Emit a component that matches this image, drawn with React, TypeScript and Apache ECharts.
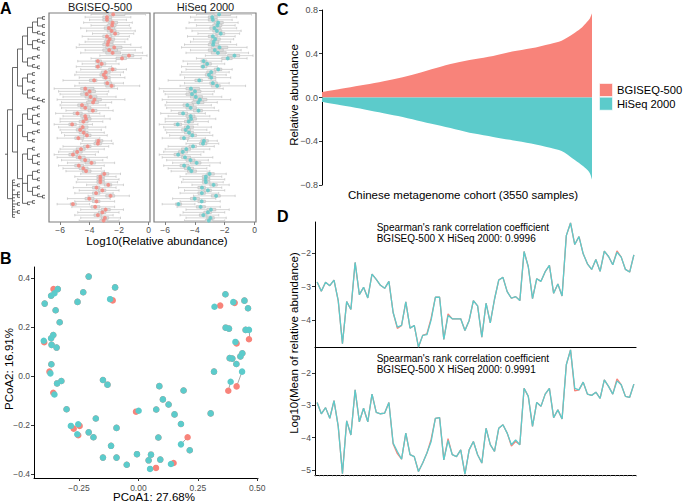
import React, { useEffect, useRef } from "react";
import * as echarts from "echarts";

const FONT = "'Liberation Sans', Arial, Helvetica, sans-serif";
const RED = "#F8837A";
const TEAL = "#5CCBCB";
const TICK_TXT = "#4D4D4D";

// ---------- Panel A : per-genus distributions (76 genera) ----------
const aRows = Array.from({ length: 76 }, (_, i) => "g" + (i + 1));
const aMedB = [-2.40, -2.82, -2.82, -2.44, -2.47, -2.69, -2.51, -2.27, -2.82, -2.64, -2.73, -2.78, -2.33, -2.67, -2.44, -1.33, -1.80, -3.44, -3.18, -3.44, -2.44, -2.91, -3.04, -2.91, -3.69, -2.80, -2.51, -4.29, -4.00, -4.20, -3.93, -3.67, -3.76, -4.51, -4.29, -3.78, -4.82, -4.29, -4.24, -4.42, -5.18, -4.47, -4.64, -4.40, -4.18, -4.76, -3.40, -3.44, -4.13, -4.58, -4.84, -5.13, -4.67, -4.30, -3.87, -4.73, -4.42, -4.24, -3.00, -3.27, -3.27, -3.27, -2.73, -3.53, -3.13, -3.56, -2.58, -4.02, -3.53, -5.13, -3.62, -2.91, -3.13, -3.44, -2.96, -3.05];
const aMedH = [-2.38, -2.84, -2.80, -2.44, -2.49, -2.69, -2.53, -2.27, -2.80, -2.64, -2.75, -2.78, -2.35, -2.67, -2.46, -1.35, -1.80, -3.42, -3.18, -3.46, -2.44, -2.91, -3.06, -2.91, -3.71, -2.80, -2.51, -4.27, -4.00, -4.20, -3.95, -3.67, -3.78, -4.51, -4.29, -3.76, -4.80, -4.29, -4.26, -4.42, -5.16, -4.47, -4.62, -4.40, -4.18, -4.74, -3.40, -3.46, -4.13, -4.58, -4.82, -5.13, -4.67, -4.30, -3.89, -4.73, -4.40, -4.24, -3.02, -3.27, -3.29, -3.27, -2.75, -3.53, -3.13, -3.54, -2.58, -4.02, -3.55, -5.11, -3.62, -2.93, -3.13, -3.44, -2.96, -3.07];
const aLow = [-3.9, -4.3, -4.0, -4.4, -3.9, -4.6, -4.2, -3.8, -4.5, -4.1, -4.3, -4.7, -4.9, -4.3, -4.6, -3.3, -3.9, -4.8, -4.5, -4.9, -4.6, -4.9, -5.0, -4.7, -5.8, -4.7, -5.0, -6.4, -6.1, -6.0, -5.8, -6.2, -5.9, -6.0, -5.9, -5.6, -6.3, -5.8, -6.0, -6.0, -6.4, -6.1, -6.0, -5.9, -5.7, -6.2, -4.5, -4.6, -5.8, -6.0, -6.1, -6.4, -6.2, -5.9, -5.5, -6.1, -5.8, -5.6, -4.6, -5.0, -4.8, -4.9, -4.2, -5.1, -4.7, -5.0, -4.1, -5.5, -5.0, -6.2, -5.2, -4.6, -4.8, -5.0, -4.6, -4.7];
const aQ1 = [-2.7, -3.1, -3.1, -2.7, -2.8, -3.0, -2.8, -2.6, -3.1, -2.9, -3.0, -3.1, -2.9, -3.1, -2.9, -1.8, -2.2, -3.6, -3.4, -3.6, -2.7, -3.2, -3.3, -3.1, -4.0, -3.0, -2.9, -4.6, -4.4, -4.6, -4.3, -4.1, -4.2, -4.8, -4.6, -4.1, -5.1, -4.6, -4.5, -4.7, -5.4, -4.7, -4.9, -4.7, -4.4, -5.0, -3.6, -3.7, -4.4, -4.9, -5.1, -5.4, -4.9, -4.6, -4.3, -5.0, -4.7, -4.5, -3.2, -3.5, -3.5, -3.5, -3.0, -3.8, -3.4, -3.8, -2.9, -4.3, -3.8, -5.3, -3.9, -3.2, -3.4, -3.7, -3.2, -3.3];
const aQ3 = [-1.6, -2.5, -2.5, -2.1, -2.2, -2.3, -2.2, -2.0, -2.5, -2.3, -2.4, -2.4, -1.8, -2.1, -1.9, -1.0, -1.5, -3.2, -2.9, -3.2, -2.2, -2.6, -2.8, -2.6, -3.5, -2.5, -2.3, -3.7, -3.6, -3.9, -3.5, -3.2, -3.4, -4.1, -3.9, -3.5, -4.5, -4.0, -3.9, -4.1, -4.9, -4.1, -4.3, -4.1, -3.9, -4.4, -3.1, -3.2, -3.9, -4.3, -4.5, -4.8, -4.3, -4.0, -3.6, -4.4, -4.1, -3.9, -2.7, -3.0, -3.0, -3.0, -2.5, -3.3, -2.9, -3.3, -2.3, -3.7, -3.3, -4.9, -3.3, -2.6, -2.9, -3.2, -2.7, -2.8];
const aHigh = [-0.2, -1.2, -1.5, -1.1, -1.3, -1.2, -0.9, -1.0, -1.3, -1.4, -1.6, -1.2, -0.5, -0.9, -0.4, -0.1, -0.5, -2.2, -2.0, -2.5, -1.5, -1.7, -1.9, -1.6, -2.6, -1.7, -0.6, -2.1, -2.7, -2.8, -2.2, -1.6, -2.5, -2.9, -2.7, -2.4, -3.3, -3.0, -2.6, -3.1, -3.8, -2.9, -3.2, -3.0, -2.8, -3.3, -2.5, -2.4, -2.7, -3.0, -3.4, -3.6, -2.8, -3.1, -2.3, -3.0, -3.2, -3.0, -1.9, -2.2, -2.0, -2.1, -1.7, -2.2, -2.0, -2.4, -1.3, -2.6, -2.3, -4.0, -2.3, -1.7, -2.0, -2.4, -1.9, -2.0];
const aTicks = [-6, -4, -2, 0];

// phylogenetic tree topology ("*" = leaf)
const treeC1 = "(((((*,*),(*,*)),(*,(*,*))),((*,(*,*)),(*,*))),(((*,*),*),(*,(*,*))))";
const treeC2 = "(((*,*),(*,*)),((*,*),(*,(*,(*,*)))))";
const treeC3 = "((((*,*),*),((*,*),(*,*))),(((*,*),*),(*,*)))";
const treeC4 = "(((*,*),((*,*),(*,*))),(((*,*),(*,*)),((*,*),(*,(*,*)))),((*,*),*))";
const treeBottom = "(*,*,(*,*),*,(*,*,*),*,*,(*,*),*,*,(*,*),*,*)";

// ---------- Panel B : PCoA ----------
const bHiX = [-0.209, -0.098, -0.232, -0.339, -0.367, -0.353, -0.394, -0.348, -0.256, -0.119, -0.331, -0.358, -0.367, -0.398, -0.365, -0.344, -0.366, -0.370, -0.342, -0.324, -0.353, -0.302, -0.284, -0.253, -0.257, -0.209, -0.189, -0.179, -0.149, -0.130, -0.092, -0.115, -0.149, -0.092, -0.049, -0.006, 0.001, 0.075, 0.088, 0.103, 0.127, 0.152, 0.190, 0.179, 0.084, 0.053, 0.043, 0.092, 0.049, 0.137, 0.179, 0.216, 0.304, 0.318, 0.320, 0.366, 0.399, 0.446, 0.461, 0.367, 0.381, 0.451, 0.465, 0.408, 0.384, 0.395, 0.412, 0.429, 0.437, 0.436, 0.388];
const bHiY = [0.405, 0.361, 0.341, 0.354, 0.327, 0.337, 0.295, 0.268, 0.302, 0.313, 0.219, 0.167, 0.154, 0.144, 0.127, 0.116, 0.048, 0.011, -0.030, -0.020, -0.075, -0.135, -0.203, -0.196, -0.237, -0.229, -0.249, -0.173, -0.016, -0.035, -0.211, -0.284, -0.332, -0.332, -0.361, -0.318, -0.141, -0.136, -0.041, -0.095, -0.116, -0.156, -0.059, -0.195, -0.250, -0.320, -0.343, -0.340, -0.378, -0.358, -0.278, -0.302, -0.152, 0.018, 0.282, 0.333, 0.301, 0.307, 0.276, 0.197, 0.193, 0.188, 0.188, 0.139, 0.073, 0.071, 0.049, 0.080, 0.093, 0.018, -0.023];
const bBgX = [-0.209, -0.098, -0.232, -0.339, -0.367, -0.357, -0.394, -0.348, -0.256, -0.108, -0.331, -0.358, -0.367, -0.396, -0.365, -0.344, -0.366, -0.374, -0.342, -0.324, -0.358, -0.302, -0.272, -0.247, -0.253, -0.209, -0.189, -0.179, -0.149, -0.130, -0.092, -0.115, -0.149, -0.092, -0.049, -0.006, -0.010, 0.075, 0.088, 0.103, 0.127, 0.152, 0.190, 0.179, 0.084, 0.053, 0.043, 0.092, 0.074, 0.148, 0.207, 0.216, 0.304, 0.318, 0.344, 0.366, 0.405, 0.446, 0.461, 0.367, 0.381, 0.451, 0.465, 0.413, 0.384, 0.395, 0.412, 0.429, 0.437, 0.413, 0.378];
const bBgY = [0.405, 0.361, 0.341, 0.354, 0.327, 0.354, 0.295, 0.268, 0.302, 0.308, 0.219, 0.167, 0.154, 0.138, 0.127, 0.116, 0.048, 0.018, -0.030, -0.020, -0.068, -0.135, -0.214, -0.203, -0.241, -0.229, -0.249, -0.173, -0.016, -0.035, -0.211, -0.284, -0.332, -0.332, -0.361, -0.318, -0.145, -0.136, -0.041, -0.095, -0.116, -0.156, -0.059, -0.195, -0.250, -0.320, -0.343, -0.340, -0.374, -0.354, -0.249, -0.302, -0.152, 0.018, 0.287, 0.333, 0.298, 0.307, 0.276, 0.197, 0.193, 0.188, 0.150, 0.133, 0.073, 0.071, 0.049, 0.080, 0.093, -0.042, -0.060];
const bXTicks = [-0.25, 0, 0.25, 0.5];
const bYTicks = [-0.4, -0.2, 0, 0.2, 0.4];

// ---------- Panel C : mapped reads per sample ----------
const cSample = [0, 250, 500, 750, 1000, 1250, 1500, 1750, 2000, 2250, 2500, 2750, 3000, 3150, 3300, 3400, 3470, 3520, 3550];
const cBgi = [0.05, 0.08, 0.11, 0.14, 0.175, 0.22, 0.27, 0.315, 0.35, 0.38, 0.42, 0.45, 0.49, 0.52, 0.58, 0.63, 0.68, 0.72, 0.77];
const cHiseq = [-0.04, -0.07, -0.10, -0.135, -0.17, -0.21, -0.25, -0.29, -0.33, -0.36, -0.39, -0.42, -0.46, -0.49, -0.56, -0.61, -0.65, -0.69, -0.75];
const cYTicks = [-0.8, -0.4, 0, 0.4, 0.8];

// ---------- Panel D : mean relative abundance per genus ----------
const dGenera = Array.from({ length: 76 }, (_, i) => "genus" + (i + 1));
const dTopHi = [-2.86, -3.14, -2.87, -2.97, -2.80, -3.42, -4.72, -3.45, -3.69, -2.27, -3.24, -3.02, -3.34, -2.62, -2.78, -2.96, -3.05, -2.84, -3.78, -4.22, -4.17, -3.46, -4.25, -4.17, -4.82, -4.47, -4.45, -4.00, -3.32, -3.32, -4.59, -3.87, -3.97, -3.97, -3.97, -4.32, -4.02, -3.42, -3.58, -4.52, -3.50, -4.09, -3.38, -2.80, -2.72, -3.15, -3.35, -3.30, -3.42, -1.94, -2.40, -3.36, -2.76, -2.84, -2.55, -2.36, -3.20, -2.92, -3.28, -1.46, -1.08, -1.73, -1.49, -2.01, -2.31, -2.48, -2.18, -2.54, -1.93, -2.09, -2.34, -1.96, -2.11, -2.48, -2.56, -2.04];
const dTopBg = [-2.86, -3.14, -2.87, -2.97, -2.80, -3.42, -4.72, -3.45, -3.69, -2.27, -3.24, -3.02, -3.34, -2.62, -2.78, -2.96, -3.05, -2.84, -3.78, -4.26, -4.17, -3.46, -4.25, -4.17, -4.82, -4.47, -4.42, -3.95, -3.32, -3.32, -4.59, -3.82, -3.97, -3.97, -3.97, -4.32, -4.02, -3.42, -3.58, -4.52, -3.50, -4.09, -3.38, -2.80, -2.72, -3.15, -3.35, -3.30, -3.42, -1.94, -2.40, -3.36, -2.76, -2.84, -2.55, -2.36, -3.20, -2.92, -3.28, -1.46, -1.08, -1.73, -1.49, -2.01, -2.31, -2.48, -2.18, -2.54, -1.93, -2.09, -2.34, -1.92, -2.11, -2.48, -2.56, -2.04];
const dBotHi = [-2.91, -3.26, -3.07, -3.40, -2.85, -3.65, -5.12, -3.48, -3.92, -2.52, -3.51, -3.09, -3.51, -2.65, -3.22, -3.26, -3.24, -2.91, -4.17, -4.43, -4.67, -3.86, -4.53, -4.59, -5.05, -4.79, -4.48, -4.12, -3.40, -3.38, -4.69, -4.09, -4.53, -4.59, -4.38, -5.13, -4.38, -4.12, -4.53, -4.79, -3.71, -4.22, -4.43, -3.71, -3.60, -3.86, -4.22, -4.07, -4.22, -2.47, -2.72, -3.65, -2.91, -3.03, -2.65, -2.47, -3.38, -3.14, -3.42, -1.74, -1.28, -2.47, -2.52, -2.28, -2.65, -2.69, -2.59, -2.78, -2.21, -2.41, -2.65, -2.24, -2.36, -2.72, -2.75, -2.34];
const dBotBg = [-2.91, -3.26, -3.07, -3.40, -2.85, -3.65, -5.12, -3.48, -3.92, -2.52, -3.51, -3.09, -3.51, -2.65, -3.22, -3.26, -3.24, -2.91, -4.20, -4.50, -4.67, -3.86, -4.53, -4.59, -5.05, -4.79, -4.48, -4.05, -3.40, -3.38, -4.69, -4.03, -4.53, -4.59, -4.38, -5.13, -4.38, -4.12, -4.53, -4.79, -3.71, -4.22, -4.43, -3.71, -3.60, -3.86, -4.26, -4.12, -4.22, -2.47, -2.72, -3.65, -2.91, -3.03, -2.65, -2.47, -3.38, -3.14, -3.42, -1.74, -1.28, -2.55, -2.52, -2.28, -2.65, -2.69, -2.59, -2.78, -2.21, -2.41, -2.65, -2.18, -2.36, -2.72, -2.75, -2.34];
const dTopTicks = [-4, -3, -2];
const dBotTicks = [-5, -4, -3, -2];

function parseTree(s: string) {
  let i = 0;
  let n = 0;
  function node(): any {
    n += 1;
    const name = "n" + n;
    if (s[i] === "(") {
      i++;
      const children: any[] = [];
      while (i < s.length) {
        children.push(node());
        if (s[i] === ",") { i++; continue; }
        if (s[i] === ")") { i++; break; }
        break;
      }
      return { name, children };
    }
    i++;
    return { name };
  }
  return node();
}

const minus = (v: number, d: number) => (v < 0 ? "\u2212" : "") + Math.abs(v).toFixed(d);

function valueAxis(grid: number, min: number, max: number, ticks: number[], dec: number, line: boolean, margin = 4, size = 8.5) {
  return {
    type: "value",
    gridIndex: grid,
    min,
    max,
    axisLine: { show: line, onZero: false, lineStyle: { color: "#000", width: 1 } },
    axisTick: { show: true, length: 3, customValues: ticks, lineStyle: { color: line ? "#333" : "#7F7F7F" } },
    axisLabel: { customValues: ticks, formatter: (v: number) => minus(v, dec), fontSize: size, color: TICK_TXT, margin, fontFamily: FONT },
    splitLine: { show: false },
  };
}

function text(x: number, y: number, t: string, size: number, opts: any = {}) {
  return {
    type: "text",
    x,
    y,
    rotation: opts.rotation || 0,
    silent: true,
    style: {
      text: t,
      font: `${opts.bold ? "bold " : ""}${size}px ${FONT}`,
      fill: opts.fill || "#000",
      textAlign: opts.align || "center",
      textVerticalAlign: "middle",
      align: opts.align || "center",
      verticalAlign: "middle",
    },
  };
}

export default function App() {
  const ref = useRef<HTMLDivElement>(null);
  useEffect(() => {
    document.body.style.margin = "0";
    if (!ref.current) return;
    const chart = echarts.init(ref.current, null, { renderer: "svg" });
    const treeRoot = parseTree(`(((${treeC1},${treeC2}),(${treeC3},${treeC4})),${treeBottom})`);
    const boxData = (meds: number[]) => meds.map((m, i) => [aLow[i], aQ1[i], m, aQ3[i], aHigh[i]]);
    const boxStyle = { color: "#DDDDDD", borderColor: "#C2C2C2", borderWidth: 0.7 };

    const option: any = {
      animation: false,
      textStyle: { fontFamily: FONT },
      grid: [
        { left: 49, top: 13, width: 101, height: 209, show: true, borderColor: "#7F7F7F", borderWidth: 1.2, backgroundColor: "transparent" },
        { left: 154, top: 13, width: 102, height: 209, show: true, borderColor: "#7F7F7F", borderWidth: 1.2, backgroundColor: "transparent" },
        { left: 34, top: 267, width: 224, height: 211 },
        { left: 322, top: 10, width: 270, height: 175 },
        { left: 315, top: 222, width: 321, height: 125 },
        { left: 315, top: 348, width: 321, height: 127 },
      ],
      xAxis: [
        valueAxis(0, -6.75, 0.1, aTicks, 0, false, 3),
        valueAxis(1, -6.75, 0.1, aTicks, 0, false, 3),
        valueAxis(2, -0.439, 0.503, bXTicks, 2, true, 5),
        { type: "value", gridIndex: 3, min: 0, max: 3550, show: false },
        { type: "category", gridIndex: 4, data: dGenera, boundaryGap: true, axisLine: { lineStyle: { color: "#000", width: 1.2 } }, axisTick: { show: false }, axisLabel: { show: false } },
        { type: "category", gridIndex: 5, data: dGenera, boundaryGap: true, axisLine: { lineStyle: { color: "#000", width: 1.2 } }, axisTick: { show: true, interval: 0, length: 2, lineStyle: { color: "#AAA", width: 0.5 } }, axisLabel: { show: false } },
      ],
      yAxis: [
        { type: "category", gridIndex: 0, data: aRows, inverse: true, show: false },
        { type: "category", gridIndex: 1, data: aRows, inverse: true, show: false },
        valueAxis(2, -0.415, 0.444, bYTicks, 1, true),
        valueAxis(3, -0.8, 0.8, cYTicks, 1, true, 4, 9),
        valueAxis(4, -4.82, -1.05, dTopTicks, 0, true),
        valueAxis(5, -5.16, -1.22, dBotTicks, 0, true),
      ],
      series: [
        {
          type: "tree",
          data: [treeRoot],
          left: 5,
          top: 14,
          width: 40,
          height: 206,
          layout: "orthogonal",
          orient: "LR",
          edgeShape: "polyline",
          symbol: "none",
          roam: false,
          expandAndCollapse: false,
          initialTreeDepth: -1,
          label: { show: false },
          leaves: { label: { show: false } },
          lineStyle: { color: "#444", width: 0.8, curveness: 0 },
          emphasis: { disabled: true },
          silent: true,
        },
        { type: "boxplot", xAxisIndex: 0, yAxisIndex: 0, data: boxData(aMedB), boxWidth: [2.4, 2.4], itemStyle: boxStyle, silent: true },
        { type: "scatter", xAxisIndex: 0, yAxisIndex: 0, data: aMedB.map((m, i) => [m, i]), symbolSize: 4, itemStyle: { color: RED }, silent: true },
        { type: "boxplot", xAxisIndex: 1, yAxisIndex: 1, data: boxData(aMedH), boxWidth: [2.4, 2.4], itemStyle: boxStyle, silent: true },
        { type: "scatter", xAxisIndex: 1, yAxisIndex: 1, data: aMedH.map((m, i) => [m, i]), symbolSize: 4, itemStyle: { color: TEAL }, silent: true },
        {
          type: "lines",
          coordinateSystem: "cartesian2d",
          xAxisIndex: 2,
          yAxisIndex: 2,
          data: bHiX.map((x, i) => ({ coords: [[bBgX[i], bBgY[i]], [x, bHiY[i]]] })),
          lineStyle: { color: "#A8A8A8", width: 1, opacity: 1, curveness: 0 },
          silent: true,
        },
        { type: "scatter", xAxisIndex: 2, yAxisIndex: 2, data: bBgX.map((x, i) => [x, bBgY[i]]), symbolSize: 6.5, itemStyle: { color: RED, opacity: 1 }, silent: true },
        { type: "scatter", xAxisIndex: 2, yAxisIndex: 2, data: bHiX.map((x, i) => [x, bHiY[i]]), symbolSize: 6.5, itemStyle: { color: TEAL, opacity: 1 }, silent: true },
        { type: "line", xAxisIndex: 3, yAxisIndex: 3, data: cSample.map((x, i) => [x, cBgi[i]]), smooth: 0.3, symbol: "none", lineStyle: { width: 0 }, areaStyle: { color: RED, opacity: 1 }, silent: true },
        { type: "line", xAxisIndex: 3, yAxisIndex: 3, data: cSample.map((x, i) => [x, cHiseq[i]]), smooth: 0.3, symbol: "none", lineStyle: { width: 0 }, areaStyle: { color: TEAL, opacity: 1 }, silent: true },
        { type: "line", xAxisIndex: 4, yAxisIndex: 4, data: dTopBg, symbol: "none", lineStyle: { color: RED, width: 1.3 }, silent: true },
        { type: "line", xAxisIndex: 4, yAxisIndex: 4, data: dTopHi, symbol: "none", lineStyle: { color: TEAL, width: 1.3 }, silent: true },
        { type: "line", xAxisIndex: 5, yAxisIndex: 5, data: dBotBg, symbol: "none", lineStyle: { color: RED, width: 1.3 }, silent: true },
        { type: "line", xAxisIndex: 5, yAxisIndex: 5, data: dBotHi, symbol: "none", lineStyle: { color: TEAL, width: 1.3 }, silent: true },
      ],
      graphic: [
        text(0, 8, "A", 16, { bold: true, align: "left" }),
        text(0, 258, "B", 16, { bold: true, align: "left" }),
        text(277, 9, "C", 16, { bold: true, align: "left" }),
        text(277, 216, "D", 16, { bold: true, align: "left" }),
        text(100, 6.5, "BGISEQ-500", 11, { fill: "#1A1A1A" }),
        text(205.5, 6.5, "HiSeq 2000", 11, { fill: "#1A1A1A" }),
        text(157, 240.5, "Log10(Relative abundance)", 11.5),
        text(154, 497, "PCoA1: 27.68%", 11.5),
        text(9, 369, "PCoA2: 16.91%", 11.5, { rotation: Math.PI / 2 }),
        text(294, 95, "Relative abundance", 11.5, { rotation: Math.PI / 2 }),
        text(463, 195, "Chinese metagenome cohort (3550 samples)", 11.5),
        text(587, 88.5, "Mapped reads / Total reads = 32.02%", 10, { fill: "#FFFFFF", align: "right" }),
        text(587, 106.5, "Mapped reads / Total reads = 32.07%", 10, { fill: "#FFFFFF", align: "right" }),
        { type: "rect", shape: { x: 599.5, y: 83.5, width: 13, height: 13 }, style: { fill: RED, stroke: "#FFFFFF", lineWidth: 0.6 }, silent: true },
        { type: "rect", shape: { x: 599.5, y: 97.2, width: 13, height: 13 }, style: { fill: TEAL, stroke: "#FFFFFF", lineWidth: 0.6 }, silent: true },
        text(617, 90, "BGISEQ-500", 11.2, { align: "left" }),
        text(617, 103.5, "HiSeq 2000", 11.2, { align: "left" }),
        text(294, 343, "Log10(Mean of relative abundance)", 11.5, { rotation: Math.PI / 2 }),
        text(376.7, 227.5, "Spearman's rank correlation coefficient", 10, { align: "left" }),
        text(376.7, 238.5, "BGISEQ-500 X HiSeq 2000: 0.9996", 10, { align: "left" }),
        text(376.7, 358.3, "Spearman's rank correlation coefficient", 10, { align: "left" }),
        text(376.7, 369.5, "BGISEQ-500 X HiSeq 2000: 0.9991", 10, { align: "left" }),
      ],
    };
    chart.setOption(option);
    return () => chart.dispose();
  }, []);
  return <div ref={ref} style={{ width: 685, height: 503 }} />;
}
